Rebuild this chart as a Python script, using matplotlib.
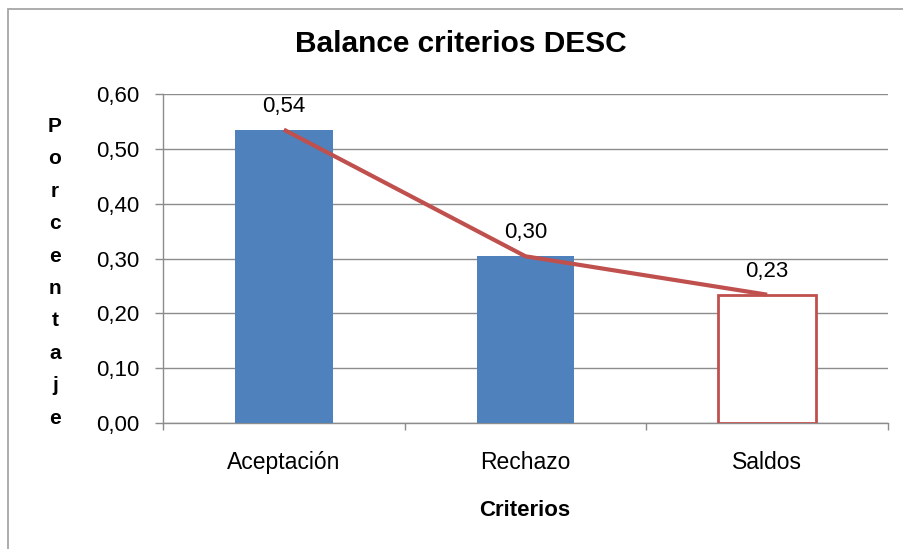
import matplotlib
matplotlib.use("Agg")
import matplotlib.pyplot as plt
from matplotlib.patches import Rectangle
import numpy as np

categories = ["Aceptación", "Rechazo", "Saldos"]
values = [0.535, 0.304, 0.234]
yticks = [0.0, 0.1, 0.2, 0.3, 0.4, 0.5, 0.6]
title = "Balance criterios DESC"
xlabel = "Criterios"
ylabel = "Porcentaje"

BLUE = "#4F81BD"
RED = "#C0504D"
GRID = "#8C8C8C"

plt.rcParams['font.family'] = ['Liberation Sans', 'DejaVu Sans']
NARROW = ['Liberation Sans Narrow', 'Liberation Sans', 'DejaVu Sans']

W, H = 904, 549
fig = plt.figure(figsize=(W / 100, H / 100), dpi=100)
fig.patch.set_facecolor("white")

# outer chart border
fig.patches.append(Rectangle((8 / W, -0.05), 1.2, 1 - 9 / H + 0.05, transform=fig.transFigure,
                             fill=False, edgecolor="#A6A6A6", linewidth=1.3))

ax = fig.add_axes([163 / W, 1 - 423 / H, (888 - 163) / W, (423 - 94) / H])
x = np.arange(len(categories))
faces = [BLUE, BLUE, "white"]
edges = [BLUE, BLUE, RED]
lws = [0, 0, 2.0]
for xi, v, fc, ec, lw in zip(x, values, faces, edges, lws):
    ax.bar(xi, v, width=0.405, color=fc, edgecolor=ec, linewidth=lw, zorder=3)

ax.plot(x, values, color=RED, linewidth=3.0, zorder=4, solid_capstyle="butt")

for xi, v in zip(x, values):
    ax.annotate(f"{v:.2f}".replace(".", ","), (xi, v), xytext=(0, 17), textcoords="offset points",
                ha="center", va="center", fontsize=16, color="black", zorder=5)

ax.set_xlim(-0.5, len(categories) - 0.5)
ax.set_ylim(0, 0.6)
ax.set_yticks(yticks)
ax.set_yticklabels([f"{t:.2f}".replace(".", ",") for t in yticks], fontsize=16)
ax.yaxis.grid(True, color=GRID, linewidth=1.0, zorder=0)
ax.set_axisbelow(True)

ax.set_xticks(np.arange(-0.5, len(categories), 1.0))
ax.set_xticklabels([])
ax.set_xticks(x, minor=True)
ax.set_xticklabels(categories, minor=True, fontsize=16.5, family=NARROW)
ax.tick_params(axis="x", which="minor", length=0, pad=20)
ax.tick_params(axis="x", which="major", length=5, color=GRID, width=1.0, direction="out")
ax.tick_params(axis="y", length=6, color=GRID, width=1.0, direction="out", pad=11)

for s in ["top", "right"]:
    ax.spines[s].set_visible(False)
for s in ["left", "bottom"]:
    ax.spines[s].set_color(GRID)
    ax.spines[s].set_linewidth(1.0)

fig.text(461 / W, 1 - 44 / H, title, ha="center", va="center", fontsize=21.5, fontweight="bold")
fig.text(525 / W, 1 - 510 / H, xlabel, ha="center", va="center", fontsize=16,
         fontweight="bold", family=NARROW)

y0 = 132
for i, ch in enumerate(ylabel):
    fig.text(55 / W, 1 - (y0 + i * 32.4) / H, ch, ha="center", va="baseline",
             fontsize=15, fontweight="bold")

fig.savefig("out.png", dpi=100, facecolor="white")
